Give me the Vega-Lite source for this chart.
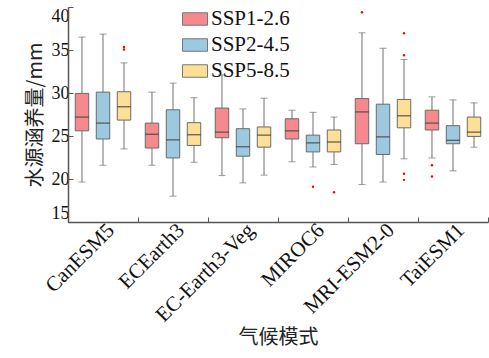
{
  "$schema": "https://vega.github.io/schema/vega-lite/v6.json",
  "width": 420,
  "height": 215,
  "autosize": {"type": "none"},
  "padding": {"left": 68, "top": 7, "right": 1, "bottom": 136},
  "background": "white",
  "datasets": {
    "boxes": [
      {"model": "CanESM5", "ssp": "SSP1-2.6", "lo": 19.65, "q1": 25.6, "med": 27.2, "q3": 29.95, "hi": 36.5},
      {"model": "CanESM5", "ssp": "SSP2-4.5", "lo": 21.6, "q1": 24.65, "med": 26.5, "q3": 30.1, "hi": 36.85},
      {"model": "CanESM5", "ssp": "SSP5-8.5", "lo": 23.5, "q1": 26.85, "med": 28.4, "q3": 30.15, "hi": 33.5},
      {"model": "ECEarth3", "ssp": "SSP1-2.6", "lo": 21.6, "q1": 23.6, "med": 25.2, "q3": 26.5, "hi": 30.1},
      {"model": "ECEarth3", "ssp": "SSP2-4.5", "lo": 18.0, "q1": 22.45, "med": 24.55, "q3": 28.05, "hi": 31.15},
      {"model": "ECEarth3", "ssp": "SSP5-8.5", "lo": 21.95, "q1": 23.9, "med": 25.15, "q3": 26.55, "hi": 29.45},
      {"model": "EC-Earth3-Veg", "ssp": "SSP1-2.6", "lo": 20.4, "q1": 24.8, "med": 25.45, "q3": 28.25, "hi": 32.1},
      {"model": "EC-Earth3-Veg", "ssp": "SSP2-4.5", "lo": 19.55, "q1": 22.65, "med": 23.75, "q3": 25.85, "hi": 28.15},
      {"model": "EC-Earth3-Veg", "ssp": "SSP5-8.5", "lo": 20.45, "q1": 23.7, "med": 25.1, "q3": 26.05, "hi": 29.4},
      {"model": "MIROC6", "ssp": "SSP1-2.6", "lo": 22.0, "q1": 24.65, "med": 25.6, "q3": 27.0, "hi": 28.0},
      {"model": "MIROC6", "ssp": "SSP2-4.5", "lo": 21.4, "q1": 23.15, "med": 24.2, "q3": 25.1, "hi": 27.75},
      {"model": "MIROC6", "ssp": "SSP5-8.5", "lo": 21.7, "q1": 23.15, "med": 24.3, "q3": 25.7, "hi": 27.2},
      {"model": "MRI-ESM2-0", "ssp": "SSP1-2.6", "lo": 19.35, "q1": 24.1, "med": 27.8, "q3": 29.35, "hi": 37.0},
      {"model": "MRI-ESM2-0", "ssp": "SSP2-4.5", "lo": 19.65, "q1": 22.85, "med": 24.9, "q3": 28.7, "hi": 35.2},
      {"model": "MRI-ESM2-0", "ssp": "SSP5-8.5", "lo": 22.35, "q1": 25.95, "med": 27.35, "q3": 29.25, "hi": 33.9},
      {"model": "TaiESM1", "ssp": "SSP1-2.6", "lo": 22.45, "q1": 25.7, "med": 26.5, "q3": 28.0, "hi": 29.55},
      {"model": "TaiESM1", "ssp": "SSP2-4.5", "lo": 20.95, "q1": 24.1, "med": 24.5, "q3": 26.2, "hi": 29.2},
      {"model": "TaiESM1", "ssp": "SSP5-8.5", "lo": 23.7, "q1": 24.95, "med": 25.45, "q3": 27.2, "hi": 28.85}
    ],
    "outliers": [
      {"model": "CanESM5", "ssp": "SSP5-8.5", "v": 35.35},
      {"model": "CanESM5", "ssp": "SSP5-8.5", "v": 35.05},
      {"model": "MIROC6", "ssp": "SSP2-4.5", "v": 19.1},
      {"model": "MIROC6", "ssp": "SSP5-8.5", "v": 18.45},
      {"model": "MRI-ESM2-0", "ssp": "SSP1-2.6", "v": 39.4},
      {"model": "MRI-ESM2-0", "ssp": "SSP5-8.5", "v": 36.95},
      {"model": "MRI-ESM2-0", "ssp": "SSP5-8.5", "v": 34.4},
      {"model": "MRI-ESM2-0", "ssp": "SSP5-8.5", "v": 20.6},
      {"model": "MRI-ESM2-0", "ssp": "SSP5-8.5", "v": 19.9},
      {"model": "TaiESM1", "ssp": "SSP1-2.6", "v": 21.6},
      {"model": "TaiESM1", "ssp": "SSP1-2.6", "v": 20.3}
    ]
  },
  "config": {
    "view": {"stroke": null},
    "font": "Liberation Serif",
    "axis": {
      "labelFont": "Liberation Serif",
      "labelColor": "#111",
      "titleFont": "Noto Sans CJK SC",
      "titleFontWeight": "normal",
      "titleColor": "#222",
      "titleFontSize": 20,
      "tickColor": "#555",
      "domainColor": "#555",
      "domainWidth": 1.5,
      "tickSize": -5,
      "grid": false
    }
  },
  "encoding": {
    "x": {
      "field": "model", "type": "nominal", "sort": null,
      "scale": {"domain": ["CanESM5", "ECEarth3", "EC-Earth3-Veg", "MIROC6", "MRI-ESM2-0", "TaiESM1"], "paddingInner": 0, "paddingOuter": 0},
      "axis": {
        "title": "气候模式", "titlePadding": 2,
        "labelAngle": -45, "labelFontSize": 21, "labelPadding": 2,
        "tickBand": "extent"
      }
    },
    "xOffset": {
      "field": "ssp", "type": "nominal",
      "scale": {"domain": ["SSP1-2.6", "SSP2-4.5", "SSP5-8.5"], "paddingInner": 0.36, "paddingOuter": 0.345}
    }
  },
  "layer": [
    {
      "data": {"name": "boxes"},
      "mark": {"type": "rule", "color": "#707070", "strokeWidth": 1},
      "encoding": {
        "y": {
          "field": "lo", "type": "quantitative",
          "scale": {"domain": [15, 40], "nice": false, "zero": false},
          "axis": {
            "title": "水源涵养量/mm", "titlePadding": 6,
            "values": [15, 20, 25, 30, 35, 40],
            "labelFontSize": 18, "labelPadding": 4, "labelFlush": true
          }
        },
        "y2": {"field": "hi"}
      }
    },
    {
      "data": {"name": "boxes"},
      "mark": {"type": "tick", "color": "#707070", "size": 7, "thickness": 1},
      "encoding": {"y": {"field": "lo", "type": "quantitative"}}
    },
    {
      "data": {"name": "boxes"},
      "mark": {"type": "tick", "color": "#707070", "size": 7, "thickness": 1},
      "encoding": {"y": {"field": "hi", "type": "quantitative"}}
    },
    {
      "data": {"name": "boxes"},
      "mark": {"type": "bar", "stroke": "#6a6a6a", "strokeWidth": 1, "opacity": 1},
      "encoding": {
        "y": {"field": "q1", "type": "quantitative"},
        "y2": {"field": "q3"},
        "fill": {
          "field": "ssp", "type": "nominal",
          "scale": {"domain": ["SSP1-2.6", "SSP2-4.5", "SSP5-8.5"], "range": ["#F4898E", "#9CC8E0", "#FDDF96"]},
          "legend": {
            "title": null, "orient": "none", "legendX": 114, "legendY": -1,
            "symbolType": "M-1,-0.5H1V0.5H-1Z", "symbolSize": 625, "symbolStrokeColor": "#777", "symbolStrokeWidth": 1, "symbolOpacity": 1,
            "labelFont": "Liberation Serif", "labelFontSize": 21, "labelColor": "#111", "labelOffset": 3, "rowPadding": 3
          }
        }
      }
    },
    {
      "data": {"name": "boxes"},
      "mark": {"type": "tick", "color": "#4a4a4a", "size": 14, "thickness": 1.3, "opacity": 0.85},
      "encoding": {"y": {"field": "med", "type": "quantitative"}}
    },
    {
      "data": {"name": "outliers"},
      "mark": {"type": "point", "filled": true, "color": "#FF0000", "size": 6, "opacity": 1},
      "encoding": {"y": {"field": "v", "type": "quantitative"}}
    }
  ]
}
